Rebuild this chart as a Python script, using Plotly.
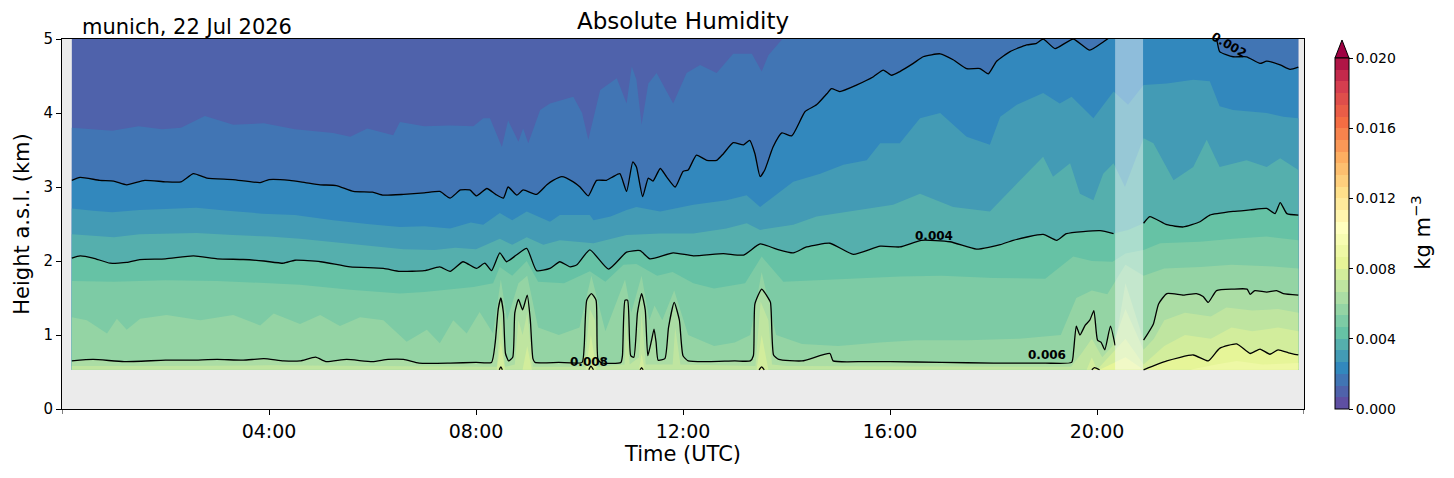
import plotly.graph_objects as go

# ---------------------------------------------------------------- data
site_label = "munich, 22 Jul 2026"
title_text = "Absolute Humidity"
cbar_title = "kg m<sup>\u22123</sup>"

first_profile, last_profile = 0.19, 23.89   # hours UTC
lowest_gate, top_of_plot = 0.53, 5.0        # km a.s.l.
flag_start, flag_end = 20.35, 20.89         # flagged (greyed) profiles

n_bands = 30                                # contourf levels 0 .. 0.02
level_max = 0.02
cbar_ticks = [0.000, 0.004, 0.008, 0.012, 0.016, 0.020]
x_ticks = [4, 8, 12, 16, 20]
x_labels = ["04:00", "08:00", "12:00", "16:00", "20:00"]
x_edges = [0, 24]
y_ticks = [0, 1, 2, 3, 4, 5]

# height (km) of the level k * 0.02/30 boundary, as (hour, km) points
lvl2 = [(0.19, 3.80), (0.97, 3.76), (1.48, 3.82), (1.93, 3.78), (2.3, 3.80), (2.76, 3.96),
        (3.31, 3.84), (3.9, 3.86), (4.5, 3.78), (5.24, 3.73), (5.57, 3.68), (5.9, 3.79),
        (6.4, 3.70), (6.53, 3.88), (7.0, 3.82), (7.5, 3.83), (7.95, 3.82), (8.14, 3.93),
        (8.27, 3.93), (8.5, 3.54), (8.62, 3.90), (8.82, 3.61), (8.91, 3.79), (9.01, 3.59),
        (9.24, 4.04), (9.43, 4.13), (9.88, 4.22), (10.05, 4.00), (10.17, 3.64), (10.4, 4.31),
        (10.72, 4.47), (10.91, 4.13), (11.01, 4.63), (11.1, 4.45), (11.2, 3.84), (11.33, 4.40),
        (11.49, 4.54), (11.81, 4.13), (12.07, 4.54), (12.33, 4.65), (12.65, 4.54), (12.97, 4.80),
        (13.33, 4.80), (13.52, 4.56), (13.65, 4.78), (13.87, 4.96), (14.0, 5.05), (23.89, 5.30)]

lvl3 = [(0.19, 3.09), (0.35, 3.13), (0.73, 3.09), (1.0, 3.08), (1.25, 3.03), (1.6, 3.09),
        (2.0, 3.07), (2.3, 3.07), (2.54, 3.18), (2.8, 3.12), (3.3, 3.10), (3.83, 3.06),
        (4.0, 3.10), (4.4, 3.09), (4.7, 3.06), (4.99, 3.03), (5.3, 3.02), (5.63, 2.94),
        (6.0, 2.93), (6.21, 2.89), (6.6, 2.90), (7.0, 2.92), (7.3, 2.94), (7.5, 2.85),
        (7.7, 2.96), (7.88, 2.96), (8.01, 2.88), (8.21, 2.98), (8.38, 2.90), (8.53, 2.85),
        (8.62, 3.00), (8.79, 2.89), (8.91, 2.96), (9.17, 2.90), (9.37, 3.03), (9.49, 3.09),
        (9.66, 3.14), (9.88, 3.07), (10.01, 3.00), (10.17, 2.88), (10.33, 3.09), (10.52, 3.09),
        (10.65, 3.14), (10.78, 3.18), (10.91, 2.94), (11.03, 3.34), (11.1, 3.27), (11.22, 2.87),
        (11.33, 3.12), (11.42, 3.08), (11.56, 3.25), (11.68, 3.14), (11.85, 3.00), (12.0, 3.21),
        (12.1, 3.23), (12.26, 3.43), (12.46, 3.36), (12.65, 3.36), (12.78, 3.45), (12.97, 3.60),
        (13.17, 3.57), (13.29, 3.63), (13.39, 3.45), (13.49, 3.14), (13.58, 3.23), (13.74, 3.54),
        (13.91, 3.73), (14.1, 3.69), (14.36, 4.02), (14.58, 4.11), (14.78, 4.26), (14.87, 4.33),
        (15.03, 4.29), (15.36, 4.38), (15.68, 4.49), (15.87, 4.58), (16.03, 4.51), (16.19, 4.56),
        (16.45, 4.67), (16.64, 4.76), (16.97, 4.80), (17.22, 4.72), (17.48, 4.60), (17.74, 4.60),
        (17.9, 4.53), (18.06, 4.70), (18.32, 4.83), (18.64, 4.92), (18.83, 4.94), (18.96, 5.00),
        (19.19, 4.87), (19.54, 5.00), (19.86, 4.85), (20.12, 4.96), (20.3, 5.05), (20.6, 5.10),
        (20.89, 5.20), (21.5, 5.30), (22.1, 5.15), (22.31, 4.99), (22.37, 4.83), (22.63, 4.76),
        (22.89, 4.76), (23.15, 4.67), (23.28, 4.70), (23.54, 4.65), (23.73, 4.59), (23.89, 4.62)]

lvl4 = [(0.19, 2.71), (0.6, 2.68), (0.97, 2.66), (1.5, 2.69), (2.0, 2.70), (2.6, 2.72),
        (3.2, 2.68), (3.87, 2.64), (4.5, 2.62), (5.24, 2.55), (5.9, 2.50), (6.53, 2.46),
        (7.0, 2.47), (7.5, 2.44), (7.9, 2.52), (8.14, 2.49), (8.46, 2.65), (8.7, 2.55),
        (8.98, 2.67), (9.43, 2.53), (9.62, 2.62), (10.2, 2.62), (10.27, 2.55), (10.6, 2.60),
        (10.91, 2.69), (11.1, 2.73), (11.56, 2.67), (12.0, 2.73), (12.2, 2.76), (12.84, 2.82),
        (13.23, 2.89), (13.49, 2.73), (13.8, 2.90), (14.13, 3.07), (14.65, 3.18), (15.1, 3.30),
        (15.55, 3.36), (15.81, 3.59), (16.19, 3.59), (16.58, 3.93), (16.97, 4.00), (17.48, 3.68),
        (17.93, 3.57), (18.13, 3.95), (18.45, 4.11), (18.96, 4.27), (19.28, 4.13), (19.51, 4.22),
        (19.93, 3.93), (20.12, 4.11), (20.32, 4.29), (20.6, 4.11), (20.9, 4.38), (21.35, 4.40),
        (21.86, 4.45), (22.18, 4.43), (22.37, 4.09), (22.63, 4.04), (23.28, 4.00), (23.6, 3.95),
        (23.89, 3.93)]

lvl5 = [(0.19, 2.36), (0.6, 2.34), (1.0, 2.32), (1.5, 2.36), (2.0, 2.37), (2.6, 2.38),
        (3.3, 2.35), (4.0, 2.33), (4.6, 2.30), (5.3, 2.25), (6.0, 2.20), (6.6, 2.16),
        (7.2, 2.15), (7.6, 2.18), (8.0, 2.16), (8.46, 2.30), (8.7, 2.22), (8.98, 2.32),
        (9.3, 2.22), (9.62, 2.28), (10.27, 2.24), (10.91, 2.35), (11.56, 2.37), (12.2, 2.37),
        (12.84, 2.44), (13.23, 2.51), (13.49, 2.42), (14.13, 2.49), (14.58, 2.60), (15.42, 2.69),
        (16.06, 2.76), (16.58, 2.91), (16.97, 2.80), (17.22, 2.73), (17.93, 2.67), (18.45, 3.05),
        (18.96, 3.41), (19.15, 3.14), (19.48, 3.32), (19.67, 2.91), (19.93, 2.82), (20.12, 3.18),
        (20.32, 3.32), (20.54, 3.00), (20.9, 3.66), (21.09, 3.59), (21.48, 3.09), (21.86, 3.27),
        (22.12, 3.64), (22.37, 3.27), (22.89, 3.36), (23.28, 3.27), (23.54, 3.39), (23.89, 3.23)]

lvl6 = [(0.19, 2.04), (0.35, 2.07), (0.6, 2.04), (0.93, 1.97), (1.25, 1.98), (1.5, 2.02),
        (2.0, 2.03), (2.54, 2.07), (3.0, 2.03), (3.5, 2.02), (3.9, 2.00), (4.28, 1.97),
        (4.5, 2.01), (5.0, 1.99), (5.57, 1.92), (6.21, 1.90), (6.53, 1.86), (7.0, 1.87),
        (7.3, 1.92), (7.5, 1.86), (7.75, 1.99), (8.01, 1.90), (8.17, 1.97), (8.3, 1.87),
        (8.46, 2.11), (8.59, 1.99), (8.78, 2.08), (8.98, 2.17), (9.17, 1.87), (9.43, 1.90),
        (9.62, 1.99), (9.82, 1.92), (9.95, 1.95), (10.2, 2.15), (10.56, 1.89), (10.91, 2.12),
        (11.17, 2.14), (11.36, 2.03), (11.81, 2.11), (12.2, 2.07), (12.78, 2.10), (13.17, 2.08),
        (13.49, 2.23), (13.81, 2.16), (14.13, 2.11), (14.39, 2.19), (14.84, 2.24), (15.29, 2.09),
        (15.81, 2.20), (16.19, 2.19), (16.61, 2.28), (17.16, 2.26), (17.67, 2.16), (18.13, 2.22),
        (18.38, 2.28), (18.96, 2.36), (19.22, 2.28), (19.41, 2.37), (20.06, 2.41), (20.32, 2.37),
        (20.6, 2.42), (20.9, 2.51), (21.02, 2.60), (21.35, 2.49), (21.67, 2.46), (21.99, 2.53),
        (22.18, 2.62), (22.63, 2.67), (22.96, 2.69), (23.28, 2.71), (23.44, 2.64), (23.54, 2.79),
        (23.67, 2.64), (23.89, 2.62)]

lvl7 = [(0.19, 1.73), (1.0, 1.72), (2.0, 1.74), (3.0, 1.73), (3.87, 1.70), (4.6, 1.68),
        (5.57, 1.61), (6.53, 1.56), (7.0, 1.58), (7.5, 1.62), (7.95, 1.65), (8.33, 1.70),
        (8.46, 1.92), (8.7, 1.80), (8.98, 2.00), (9.2, 1.72), (9.7, 1.70), (10.2, 1.86),
        (10.5, 1.72), (10.85, 1.95), (11.1, 1.96), (11.5, 1.80), (11.8, 1.85), (12.2, 1.70),
        (12.6, 1.63), (13.2, 1.70), (13.52, 2.06), (13.94, 1.72), (14.6, 1.74), (15.5, 1.76),
        (16.2, 1.79), (17.0, 1.80), (18.0, 1.77), (19.0, 1.76), (19.54, 2.06), (19.9, 2.00),
        (20.3, 1.99), (20.55, 2.10), (20.9, 2.15), (21.22, 2.24), (21.99, 2.26), (22.63, 2.30),
        (23.28, 2.33), (23.89, 2.28)]

lvl8 = [(0.19, 1.24), (0.48, 1.20), (0.87, 1.02), (1.06, 1.22), (1.25, 1.07), (1.51, 1.22),
        (2.02, 1.27), (2.67, 1.20), (3.31, 1.27), (3.83, 1.13), (4.09, 1.29), (4.6, 1.15),
        (4.99, 1.27), (5.37, 1.12), (5.76, 1.24), (6.21, 1.20), (6.66, 0.91), (7.05, 1.07),
        (7.3, 0.89), (7.56, 1.20), (7.82, 1.02), (8.07, 1.31), (8.33, 1.02), (8.48, 1.75),
        (8.6, 1.20), (8.82, 1.70), (8.99, 1.80), (9.2, 1.10), (9.6, 1.00), (10.0, 1.10),
        (10.23, 1.80), (10.5, 1.05), (10.88, 1.75), (11.0, 1.30), (11.2, 1.80), (11.35, 1.20),
        (11.45, 1.40), (11.6, 1.20), (11.83, 1.60), (12.1, 1.00), (12.6, 0.85), (13.0, 0.90),
        (13.3, 1.00), (13.52, 1.85), (13.8, 1.00), (14.3, 0.88), (15.0, 0.85), (15.8, 0.90),
        (16.5, 0.93), (17.5, 0.93), (18.5, 0.95), (19.3, 1.00), (19.6, 1.50), (19.9, 1.60),
        (20.2, 1.55), (20.55, 1.95), (20.9, 1.80), (21.3, 1.90), (22.0, 1.92), (22.6, 1.95),
        (23.3, 1.93), (23.89, 1.90)]

lvl9 = [(0.19, 0.65), (0.6, 0.67), (1.2, 0.64), (2.0, 0.66), (2.5, 0.66), (3.0, 0.67),
        (3.5, 0.66), (3.9, 0.68), (4.28, 0.65), (4.6, 0.65), (4.9, 0.70), (5.1, 0.64),
        (5.5, 0.67), (6.0, 0.64), (6.3, 0.67), (6.6, 0.67), (6.9, 0.62), (7.5, 0.62),
        (8.0, 0.63), (8.3, 0.63), (8.37, 0.89), (8.43, 1.35), (8.48, 1.50), (8.53, 1.30),
        (8.57, 0.75), (8.63, 0.65), (8.71, 0.70), (8.75, 1.30), (8.82, 1.48), (8.9, 1.34),
        (8.99, 1.54), (9.05, 1.20), (9.1, 0.68), (9.14, 0.63), (9.6, 0.63), (10.05, 0.63),
        (10.09, 0.84), (10.14, 1.47), (10.23, 1.56), (10.32, 1.47), (10.36, 0.66), (10.45, 0.62),
        (10.8, 0.63), (10.83, 0.72), (10.88, 1.47), (10.93, 1.47), (10.99, 0.72), (11.05, 0.70),
        (11.12, 1.30), (11.2, 1.56), (11.27, 1.34), (11.32, 0.72), (11.39, 0.92), (11.44, 1.08),
        (11.48, 0.90), (11.52, 0.66), (11.65, 0.68), (11.72, 1.10), (11.83, 1.44), (11.93, 1.20),
        (12.0, 0.72), (12.1, 0.65), (12.5, 0.64), (13.0, 0.65), (13.3, 0.65), (13.36, 0.72),
        (13.39, 1.42), (13.52, 1.62), (13.62, 1.53), (13.69, 1.44), (13.75, 0.73), (13.85, 0.67),
        (14.3, 0.65), (14.84, 0.75), (14.9, 0.65), (15.5, 0.64), (16.0, 0.64), (17.0, 0.63),
        (18.0, 0.62), (19.0, 0.62), (19.51, 0.63), (19.55, 0.80), (19.6, 1.12), (19.67, 1.00),
        (19.77, 1.13), (19.86, 1.20), (19.94, 1.33), (20.01, 0.93), (20.08, 0.90), (20.15, 0.80),
        (20.26, 1.12), (20.35, 0.86), (20.55, 1.70), (20.9, 0.93), (21.09, 1.15), (21.19, 1.42),
        (21.35, 1.56), (21.67, 1.54), (21.92, 1.56), (22.05, 1.52), (22.15, 1.44), (22.31, 1.60),
        (22.63, 1.62), (22.9, 1.62), (22.96, 1.55), (23.05, 1.60), (23.28, 1.58), (23.47, 1.60),
        (23.6, 1.56), (23.89, 1.54)]

lvl10 = [(0.19, 0.58), (2.0, 0.58), (4.0, 0.59), (6.0, 0.58), (8.0, 0.57), (8.4, 0.57),
         (8.48, 1.25), (8.56, 0.57), (8.75, 0.60), (8.82, 1.20), (8.9, 1.00), (8.99, 1.30),
         (9.1, 0.57), (10.1, 0.57), (10.2, 1.35), (10.3, 1.20), (10.36, 0.57), (10.87, 0.60),
         (10.9, 1.20), (10.97, 0.60), (11.15, 0.70), (11.2, 1.30), (11.28, 0.60), (11.8, 0.60),
         (11.85, 1.10), (11.95, 0.60), (13.4, 0.58), (13.5, 1.45), (13.65, 1.20), (13.72, 0.60),
         (14.0, 0.58), (19.5, 0.57), (19.7, 0.75), (19.9, 0.95), (20.1, 0.70), (20.3, 0.85),
         (20.55, 1.35), (20.9, 0.80), (21.1, 0.95), (21.3, 1.20), (21.7, 1.30), (22.2, 1.25),
         (22.5, 1.37), (23.0, 1.33), (23.5, 1.35), (23.89, 1.30)]

lvl11 = [(0.19, 0.53), (8.4, 0.53), (8.48, 0.90), (8.56, 0.53), (8.9, 0.53), (8.99, 0.85),
         (9.08, 0.53), (10.12, 0.53), (10.22, 1.00), (10.33, 0.53), (11.15, 0.53), (11.2, 0.75),
         (11.26, 0.53), (13.42, 0.53), (13.52, 1.00), (13.65, 0.53), (19.8, 0.53), (19.9, 0.70),
         (20.0, 0.53), (20.55, 0.95), (20.9, 0.60), (21.3, 0.85), (21.7, 1.00), (22.2, 0.95),
         (22.6, 1.10), (23.0, 1.05), (23.5, 1.10), (23.89, 1.05)]

lvl12 = [(0.19, 0.53), (8.45, 0.53), (8.48, 0.57), (8.51, 0.53), (10.18, 0.53), (10.22, 0.58),
         (10.27, 0.53), (11.17, 0.53), (11.2, 0.56), (11.23, 0.53), (13.47, 0.53), (13.52, 0.57),
         (13.57, 0.53), (19.9, 0.53), (19.95, 0.56), (20.05, 0.53), (20.55, 0.70), (20.9, 0.53),
         (21.35, 0.65), (21.86, 0.73), (22.15, 0.65), (22.37, 0.82), (22.7, 0.88), (22.96, 0.75),
         (23.15, 0.81), (23.34, 0.74), (23.5, 0.80), (23.7, 0.76), (23.89, 0.73)]

lvl13 = [(0.19, 0.53), (21.8, 0.53), (22.3, 0.60), (22.7, 0.65), (23.2, 0.60), (23.89, 0.62)]

filled_levels = [(2, lvl2), (3, lvl3), (4, lvl4), (5, lvl5), (6, lvl6), (7, lvl7), (8, lvl8),
                 (9, lvl9), (10, lvl10), (11, lvl11), (12, lvl12), (13, lvl13)]
line_levels = [lvl3, lvl6, lvl9, lvl12]     # 0.002, 0.004, 0.006, 0.008

# ---------------------------------------------------------------- colours
SPECTRAL_R = ['#5e4fa2', '#3288bd', '#66c2a5', '#abdda4', '#e6f598', '#ffffbf',
              '#fee08b', '#fdae61', '#f46d43', '#d53e4f', '#9e0142']


def spectral_r(v):
    pos = min(max(v, 0.0), 1.0) * 10
    i = min(int(pos), 9)
    f = pos - i
    a = [int(SPECTRAL_R[i][j:j + 2], 16) for j in (1, 3, 5)]
    b = [int(SPECTRAL_R[i + 1][j:j + 2], 16) for j in (1, 3, 5)]
    c = [round(a[n] + (b[n] - a[n]) * f) for n in range(3)]
    return 'rgb(%d,%d,%d)' % tuple(c)


def band_color(k):
    return spectral_r(k / n_bands)


# ---------------------------------------------------------------- figure
fig = go.Figure()

# top band covers the whole retrieval area, lower bands painted on top
fig.add_trace(go.Scatter(
    x=[first_profile, first_profile, last_profile, last_profile],
    y=[lowest_gate, top_of_plot, top_of_plot, lowest_gate],
    fill='toself', fillcolor=band_color(1), mode='lines', line=dict(width=0),
    hoverinfo='skip'))

for k, pts in filled_levels:
    ts = [p[0] for p in pts]
    hs = [p[1] for p in pts]
    fig.add_trace(go.Scatter(
        x=[ts[0]] + ts + [ts[-1]],
        y=[lowest_gate] + hs + [lowest_gate],
        fill='toself', fillcolor=band_color(k), mode='lines', line=dict(width=0),
        hoverinfo='skip'))


def line_xy(pts):
    # contour line: hidden inside the flagged period and where it lies on the lowest gate
    floor = lowest_gate + 0.001
    xs, ys = [], []
    n = len(pts)
    for i, (t, h) in enumerate(pts):
        up = h > floor
        near = up or (i > 0 and pts[i - 1][1] > floor) or (i < n - 1 and pts[i + 1][1] > floor)
        if flag_start < t < flag_end or not near:
            xs.append(None)
            ys.append(None)
            continue
        if not up and ys and ys[-1] is not None and ys[-1] <= floor:
            xs.append(None)
            ys.append(None)
        xs.append(t)
        ys.append(h)
    return xs, ys


for pts in line_levels:
    xs, ys = line_xy(pts)
    fig.add_trace(go.Scatter(x=xs, y=ys, mode='lines',
                             line=dict(color='black', width=1.3, shape='spline', smoothing=0.5),
                             connectgaps=False, hoverinfo='skip'))

# colour bar (discrete levels)
cscale = []
for k in range(n_bands):
    cscale.append([k / n_bands, band_color(k)])
    cscale.append([(k + 1) / n_bands, band_color(k)])
fig.add_trace(go.Scatter(
    x=[None], y=[None], mode='markers',
    marker=dict(color=[0], cmin=0, cmax=level_max, colorscale=cscale, showscale=True,
                colorbar=dict(
                    x=1.0249, xanchor='left', y=0, yanchor='bottom',
                    len=0.9486, lenmode='fraction', thickness=14, xpad=0, ypad=0,
                    outlinecolor='black', outlinewidth=1,
                    tickvals=cbar_ticks, ticktext=['%.3f' % v for v in cbar_ticks],
                    ticks='outside', ticklen=4, tickcolor='black',
                    tickfont=dict(size=14, color='black'))),
    hoverinfo='skip'))

# colour-bar label, placed like the reference
fig.add_annotation(x=1.094, y=0.476, xref='paper', yref='paper', xanchor='center',
                   yanchor='middle', text=cbar_title, textangle=-90, showarrow=False,
                   font=dict(family='DejaVu Sans', size=21, color='black'))

# flagged profiles
fig.add_shape(type='rect', xref='x', yref='y', x0=flag_start, x1=flag_end,
              y0=lowest_gate, y1=top_of_plot, fillcolor='white', opacity=0.45,
              line=dict(width=0), layer='above')

# "extend max" triangle on top of the colour bar
fig.add_shape(type='path', xref='paper', yref='paper',
              path='M 1.02496 0.9486 L 1.03623 0.9486 L 1.0306 0.9973 Z',
              fillcolor=spectral_r(1.0), line=dict(color='black', width=1))

# unlabelled ticks at the day boundaries
for xe in x_edges:
    fig.add_shape(type='line', xref='x', yref='paper', x0=xe, x1=xe, y0=0, y1=-0.0135,
                  line=dict(color='black', width=1))

label_font = dict(family='DejaVu Sans', size=12, color='black')
for txt, tx, ty, ang in [("0.004", 16.85, 2.34, 0), ("0.006", 19.04, 0.73, 0),
                         ("0.008", 10.18, 0.64, 0), ("0.002", 22.55, 4.92, 30)]:
    fig.add_annotation(x=tx, y=ty, text='<b>%s</b>' % txt, showarrow=False,
                       textangle=ang, font=label_font)

fig.add_annotation(x=0.5, y=1, xref='paper', yref='paper', xanchor='center',
                   yanchor='bottom', yshift=3, text=title_text, showarrow=False,
                   font=dict(family='DejaVu Sans', size=23, color='black'))
fig.add_annotation(x=0.0145, y=1, xref='paper', yref='paper', xanchor='left',
                   yanchor='bottom', yshift=-2, text=site_label, showarrow=False,
                   font=dict(family='DejaVu Sans', size=21, color='black'))

# the page adds an 8 px body margin, so the figure is 8 px smaller and shifted
fig.update_layout(
    width=1446, height=470,
    margin=dict(l=54, r=150, t=31, b=69, autoexpand=False),
    paper_bgcolor='white', plot_bgcolor='#ebebeb',
    showlegend=False,
    font=dict(family='DejaVu Sans', color='black'),
    xaxis=dict(range=[0, 24], tickvals=x_ticks, ticktext=x_labels,
               ticks='outside', ticklen=5, tickcolor='black', automargin=False,
               showline=True, linecolor='black', linewidth=1, mirror=True,
               showgrid=False, zeroline=False, tickfont=dict(size=19),
               title=dict(text='Time (UTC)', font=dict(size=21), standoff=4)),
    yaxis=dict(range=[0, 5], tickvals=y_ticks, ticks='outside', ticklen=5,
               tickcolor='black', showline=True, linecolor='black', linewidth=1,
               mirror=True, showgrid=False, zeroline=False, tickfont=dict(size=15),
               automargin=False,
               title=dict(text='Height a.s.l. (km)', font=dict(size=21), standoff=8)),
)

fig.write_html("out.html")
